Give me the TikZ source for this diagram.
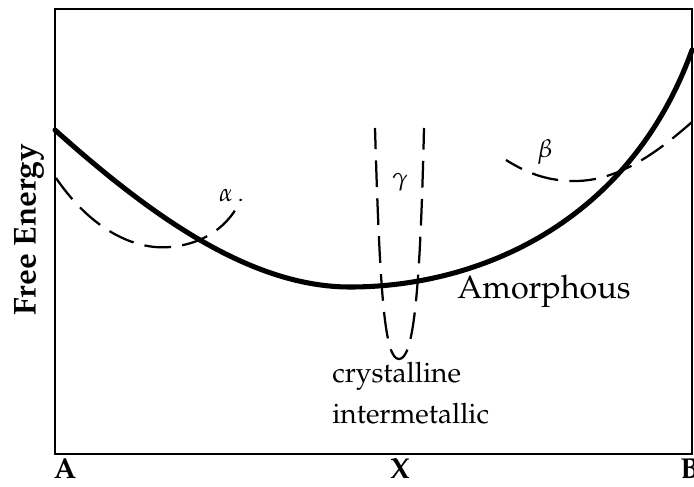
\documentclass[tikz,border=0pt]{standalone}
\usepackage[T1]{fontenc}
\usepackage{mathpazo}
\usetikzlibrary{positioning}
\newcommand{\BoxL}{55}
\newcommand{\BoxR}{692}
\newcommand{\BoxT}{9}
\newcommand{\BoxB}{454}
\newcommand{\TickY}{469}
\newcommand{\BigFont}{\fontsize{20.5}{24}\selectfont}
\newcommand{\SmallFont}{\fontsize{20}{27}\selectfont}
\newcommand{\GreekFont}{\fontsize{18}{20}\selectfont}

\begin{document}
\begin{tikzpicture}[
    x=0.025cm, y=-0.025cm,
    frame/.style={draw=black, line width=1.1pt},
    amorph/.style={draw=black, line width=3.6pt, line cap=round},
    phase/.style={draw=black, line width=1.6pt, dash pattern=on 19pt off 8pt},
    axislabel/.style={font=\BigFont\bfseries, inner sep=0pt},
    curvelabel/.style={font=\SmallFont, inner sep=0pt},
    greek/.style={font=\GreekFont, inner sep=0pt},
  ]
\useasboundingbox (0,0) rectangle (694,486);

% --- Frame and axis labels -----------------------------------------------------
\draw[frame] (\BoxL,\BoxT) rectangle (\BoxR,\BoxB);
\node[axislabel] (A) at (65,\TickY) {A};
\node[axislabel] (X) at (400,\TickY) {X};
\node[axislabel] (B) at (690,\TickY) {B};
\node[axislabel, font=\fontsize{22.5}{26}\selectfont\bfseries, rotate=90] (G) at (29,230) {Free Energy};

% --- Amorphous phase -------------------------------------------------------------
\draw[amorph] (55,130) .. controls (150,215) and (250,287) .. (350,287)
  .. controls (480,287) and (630,222) .. (692,50);
\node[curvelabel, font=\fontsize{23}{27}\selectfont, anchor=west] (amo) at (457,291) {Amorphous};

% --- Terminal solutions alpha and beta ----------------------------------------
\draw[phase] (56,178) .. controls (95,235) and (140,250) .. (170,247)
  .. controls (205,244) and (230,225) .. (241,199);
\node[greek] (alpha) at (226,195) {$\alpha$};
\draw[phase, dash phase=6pt] (506,160) .. controls (530,175) and (550,181) .. (575,181)
  .. controls (620,181) and (660,150) .. (692,122);
\node[greek] (beta) at (545,152) {$\beta$};

% --- Intermetallic compound gamma -------------------------------------------
\draw[phase, dash phase=4pt] (375,128) .. controls (380,300) and (385,359) .. (399,359)
  .. controls (413,359) and (420,300) .. (424,128);
\node[greek] (gamma) at (400,182) {$\gamma$};
\node[curvelabel, anchor=west] (crys) at (332,376) {crystalline};
\node[curvelabel, anchor=west] (inter) at (332,414) {intermetallic};

\end{tikzpicture}
\end{document}
